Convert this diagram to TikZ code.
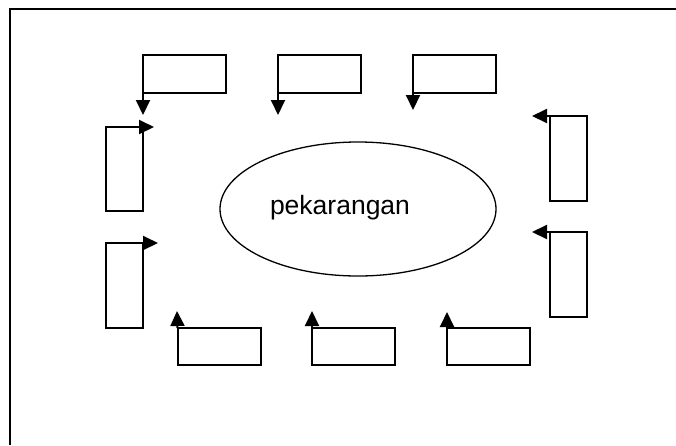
\documentclass[tikz,border=0pt]{standalone}
\usepackage{fontspec}
\setmainfont{Liberation Sans}
\usetikzlibrary{arrows.meta,shapes.geometric}

\tikzset{
  hbox/.style={draw,rectangle,line width=2pt,inner sep=0pt,outer sep=0pt,minimum width=83pt,minimum height=38pt},
  vbox/.style={draw,rectangle,line width=2pt,inner sep=0pt,outer sep=0pt,minimum width=37pt,minimum height=85pt},
  flow/.style={line width=2pt,-{Triangle[length=15pt,width=14pt]}}
}

\begin{document}
\begin{tikzpicture}[x=1pt,y=-1pt]
   \useasboundingbox (0,0) rectangle (676,445);
   \draw[line width=2pt] (9.5,445) -- (9.5,9) -- (676,9);

   \node[ellipse,draw,line width=1.3pt,minimum width=276pt,minimum height=134pt] (yard) at (358,209) {};
   \node[font=\fontsize{26.5}{30}\selectfont] (yardtext) at (340,208) {pekarangan};

   % top row
   \node[hbox] (t1) at (184.5,74) {};
   \node[hbox] (t2) at (319.5,74) {};
   \node[hbox] (t3) at (454.5,74) {};
   \coordinate (t1end) at (143,115);
   \coordinate (t2end) at (278,115);
   \coordinate (t3end) at (413,110);
   \draw[flow] (t1.south west) -- (t1end);
   \draw[flow] (t2.south west) -- (t2end);
   \draw[flow] (t3.south west) -- (t3end);

   % left column
   \node[vbox,minimum height=84pt] (l1) at (124.5,169) {};
   \node[vbox] (l2) at (124.5,285.5) {};
   \coordinate (l1end) at (154,127);
   \coordinate (l2end) at (158,243);
   \draw[flow] (l1.north east) -- (l1end);
   \draw[flow] (l2.north east) -- (l2end);

   % right column
   \node[vbox] (r1) at (568.5,158.5) {};
   \node[vbox] (r2) at (568.5,274.5) {};
   \coordinate (r1end) at (532,116);
   \coordinate (r2end) at (532,232);
   \draw[flow] (r1.north west) -- (r1end);
   \draw[flow] (r2.north west) -- (r2end);

   % bottom row
   \node[hbox,minimum height=37pt] (b1) at (219,346.5) {};
   \node[hbox,minimum height=37pt] (b2) at (353.5,346.5) {};
   \node[hbox,minimum height=37pt] (b3) at (488.5,346.5) {};
   \coordinate (b1end) at (177,311);
   \coordinate (b2end) at (312,311);
   \coordinate (b3end) at (447,312);
   \draw[flow] (b1.north west) -- (b1end);
   \draw[flow] (b2.north west) -- (b2end);
   \draw[flow] (b3.north west) -- (b3end);
\end{tikzpicture}
\end{document}
